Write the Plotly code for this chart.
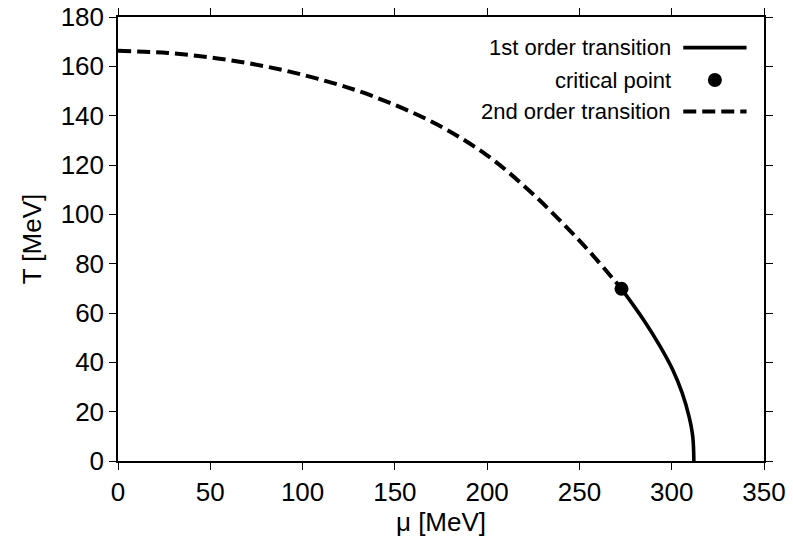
import plotly.graph_objects as go

# Phase boundary in the (mu, T) plane, MeV
mu_second = [0, 27, 54, 81, 108, 137, 172.7, 199.8, 221.5, 239.5, 255.8, 272.8]
T_second = [166.3, 165.4, 163.2, 159.8, 155.0, 148.2, 136.5, 124.0, 110.5, 97.5, 84.6, 69.8]

mu_first = [272.8, 284.8, 293.8, 300.6, 305.7, 309.4, 311.4, 312]
T_first = [69.8, 57.2, 46.4, 36.9, 27.5, 18, 9.9, 0]

mu_crit = [272.8]
T_crit = [69.8]

x_ticks = [0, 50, 100, 150, 200, 250, 300, 350]
y_ticks = [0, 20, 40, 60, 80, 100, 120, 140, 160, 180]

legend_labels = ["1st order transition", "critical point", "2nd order transition"]

FONT = "Liberation Sans, Arial, Helvetica, sans-serif"
DASH = "13px,6px"

fig = go.Figure()
fig.add_trace(go.Scatter(x=mu_second, y=T_second, mode="lines",
                         line=dict(color="black", width=4, dash=DASH,
                                   shape="spline", smoothing=1.0),
                         showlegend=False))
fig.add_trace(go.Scatter(x=mu_first, y=T_first, mode="lines",
                         line=dict(color="black", width=3.6,
                                   shape="spline", smoothing=1.0),
                         showlegend=False))
fig.add_trace(go.Scatter(x=mu_crit, y=T_crit, mode="markers",
                         marker=dict(color="black", size=14), showlegend=False))

# Key: right-aligned labels with the line sample to their right
rows_y = [0.931, 0.858, 0.787]
text_x = 0.859
samp_x0, samp_x1 = 0.875, 0.973
annotations = []
for label, ry in zip(legend_labels, rows_y):
    annotations.append(dict(text=label, x=text_x, y=ry, xref="paper", yref="paper",
                            xanchor="right", yanchor="middle", showarrow=False,
                            font=dict(family=FONT, size=22, color="black")))
shapes = [
    dict(type="line", xref="paper", yref="paper", x0=samp_x0, x1=samp_x1,
         y0=rows_y[0], y1=rows_y[0], line=dict(color="black", width=3.6)),
    dict(type="circle", xref="paper", yref="paper", xsizemode="pixel", ysizemode="pixel",
         xanchor=(samp_x0 + samp_x1) / 2, yanchor=rows_y[1], x0=-7, x1=7, y0=-7, y1=7,
         fillcolor="black", line=dict(color="black", width=0)),
    dict(type="line", xref="paper", yref="paper", x0=samp_x0, x1=samp_x1,
         y0=rows_y[2], y1=rows_y[2], line=dict(color="black", width=4, dash=DASH)),
]

axis_common = dict(showline=True, linecolor="black", linewidth=1.5, mirror="ticks",
                   ticks="outside", ticklen=7, tickwidth=1.2, tickcolor="black",
                   showgrid=False, zeroline=False,
                   tickfont=dict(family=FONT, size=26, color="black"))

fig.update_layout(
    width=793, height=544,
    margin=dict(l=118, r=29, t=17, b=83, autoexpand=False),
    paper_bgcolor="white", plot_bgcolor="white",
    font=dict(family=FONT, color="black"),
    xaxis=dict(range=[0, 350], tickvals=x_ticks,
               title=dict(text="μ [MeV]", font=dict(family=FONT, size=26), standoff=6),
               **axis_common),
    yaxis=dict(range=[0, 180], tickvals=y_ticks,
               title=dict(text="T [MeV]", font=dict(family=FONT, size=26), standoff=12),
               **axis_common),
    annotations=annotations,
    shapes=shapes,
)

fig.write_html("out.html")
